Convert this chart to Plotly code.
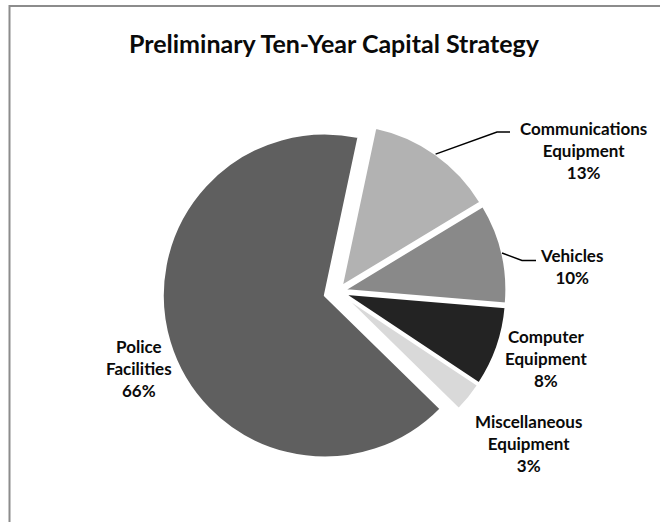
import math
import plotly.graph_objects as go

# ---- data ----
labels = ["Communications<br>Equipment", "Vehicles", "Computer<br>Equipment",
          "Miscellaneous<br>Equipment", "Police<br>Facilities"]
values = [13, 10, 8, 3, 66]
colors = ["#b2b2b2", "#898989", "#232323", "#d9d9d9", "#5f5f5f"]
pulls = [0.04, 0.04, 0.04, 0.04, 0.085]

# label block centres (pixels) and leader elbows
label_pos = [(583, 150), (571, 266), (546, 358), (528, 443), (139, 368)]
leaders = {0: [(497, 132), (510, 132)], 1: [(522, 260.5), (536, 260.5)]}

W, H = 660, 522
cx, cy = 338, 291.5
R = 162
rotation = 12
half = R * (1 + max(pulls))


def px(x):
    return x / W


def py(y):
    return 1 - y / H


fig = go.Figure(go.Pie(
    labels=labels, values=values, sort=False, direction="clockwise",
    rotation=rotation, pull=pulls, textinfo="none", hoverinfo="label+percent",
    marker=dict(colors=colors, line=dict(color="white", width=2)),
    domain=dict(x=[px(cx - half), px(cx + half)], y=[py(cy + half), py(cy - half)]),
    showlegend=False,
))

total = sum(values)
annotations = []
shapes = []
cum = 0
for i, (lab, v) in enumerate(zip(labels, values)):
    mid = math.radians(rotation + 360 * (cum + v / 2) / total)
    cum += v
    pct = round(100 * v / total)
    lx, ly = label_pos[i]
    annotations.append(dict(
        x=px(lx), y=py(ly), xref="paper", yref="paper", showarrow=False,
        text=f"{lab}<br>{pct}%", align="center", xanchor="center", yanchor="middle",
        font=dict(family="Lato", size=17, color="#0a0a0a", weight="bold"),
    ))
    if i in leaders:
        scx = cx + pulls[i] * R * math.sin(mid)
        scy = cy - pulls[i] * R * math.cos(mid)
        sx = scx + R * math.sin(mid)
        sy = scy - R * math.cos(mid)
        pts = [(sx, sy)] + leaders[i]
        path = "M " + " L ".join(f"{px(a)},{py(b)}" for a, b in pts)
        shapes.append(dict(type="path", xref="paper", yref="paper", path=path,
                           line=dict(color="black", width=1.5)))

# chart frame (top and left edges visible)
shapes.append(dict(type="path", xref="paper", yref="paper",
                   path=f"M {px(9.5)},{py(522)} L {px(9.5)},{py(6)} L {px(660)},{py(6)}",
                   line=dict(color="#8c8c8c", width=2)))

fig.update_layout(
    width=W, height=H, margin=dict(l=0, r=0, t=0, b=0),
    paper_bgcolor="white", plot_bgcolor="white",
    title=dict(text="Preliminary Ten-Year Capital Strategy", x=px(334), y=py(44),
               xanchor="center", yanchor="middle", xref="paper", yref="container",
               font=dict(family="Lato", size=25, color="#0a0a0a", weight="bold")),
    annotations=annotations, shapes=shapes,
)

fig.write_html("out.html", config={"displayModeBar": False},
               post_script="document.body.style.margin='0';document.body.style.overflow='hidden';")
